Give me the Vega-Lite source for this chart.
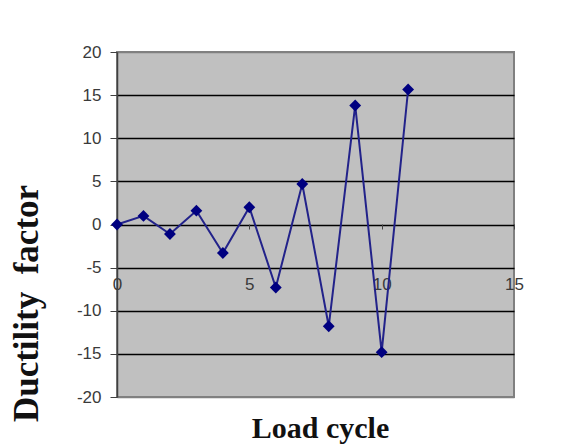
{
  "$schema": "https://vega.github.io/schema/vega-lite/v6.json",
  "width": 397,
  "height": 345,
  "autosize": {"type": "none"},
  "padding": {"left": 117, "top": 52, "right": 48, "bottom": 51},
  "background": "white",
  "config": {
    "view": {"fill": "#c0c0c0", "stroke": "#808080", "strokeWidth": 2},
    "axis": {"labelFont": "Liberation Sans", "labelFontSize": 17, "labelColor": "#3a3a3a", "titleFont": "Liberation Serif", "titleFontWeight": "bold", "titleColor": "#111111"}
  },
  "data": {"values": [
    {"cycle": 0, "ductility": 0},
    {"cycle": 1, "ductility": 1.0},
    {"cycle": 2, "ductility": -1.1},
    {"cycle": 3, "ductility": 1.6},
    {"cycle": 4, "ductility": -3.3},
    {"cycle": 5, "ductility": 2.0},
    {"cycle": 6, "ductility": -7.3},
    {"cycle": 7, "ductility": 4.7},
    {"cycle": 8, "ductility": -11.8},
    {"cycle": 9, "ductility": 13.8},
    {"cycle": 10, "ductility": -14.8},
    {"cycle": 11, "ductility": 15.65}
  ]},
  "encoding": {
    "x": {
      "field": "cycle", "type": "quantitative",
      "scale": {"domain": [0, 15], "nice": false},
      "axis": {
        "values": [0, 5, 10, 15], "offset": -173, "domain": false, "grid": false,
        "tickSize": 5, "tickColor": "#444444", "labelPadding": 47, "labelFlush": false,
        "title": "Load cycle", "titleFontSize": 30, "titleX": 203, "titleY": 213,
        "titleBaseline": "alphabetic", "titleAlign": "center", "titleAnchor": null
      }
    },
    "y": {
      "field": "ductility", "type": "quantitative",
      "scale": {"domain": [-20, 20], "nice": false, "zero": false},
      "axis": {
        "values": [-20, -15, -10, -5, 0, 5, 10, 15, 20],
        "labelExpr": "datum.value < 0 ? '-' + abs(datum.value) : '' + datum.value",
        "grid": true,
        "gridColor": {"condition": {"test": "datum.value == 20 || datum.value == -20", "value": "#808080"}, "value": "#000000"},
        "gridWidth": 1.5,
        "domainColor": "#404040", "domainWidth": 1.5,
        "tickColor": "#404040", "tickSize": 7, "labelPadding": 9,
        "title": "Ductility\u00a0\u00a0factor", "titleFontSize": 35, "titleAngle": 270,
        "titleX": -80, "titleY": 251, "titleBaseline": "alphabetic", "titleAlign": "center", "titleAnchor": null
      }
    }
  },
  "layer": [
    {"mark": {"type": "line", "color": "#22228a", "strokeWidth": 2}},
    {"mark": {"type": "point", "shape": "diamond", "filled": true, "opacity": 1, "color": "#000080", "size": 140}}
  ]
}
